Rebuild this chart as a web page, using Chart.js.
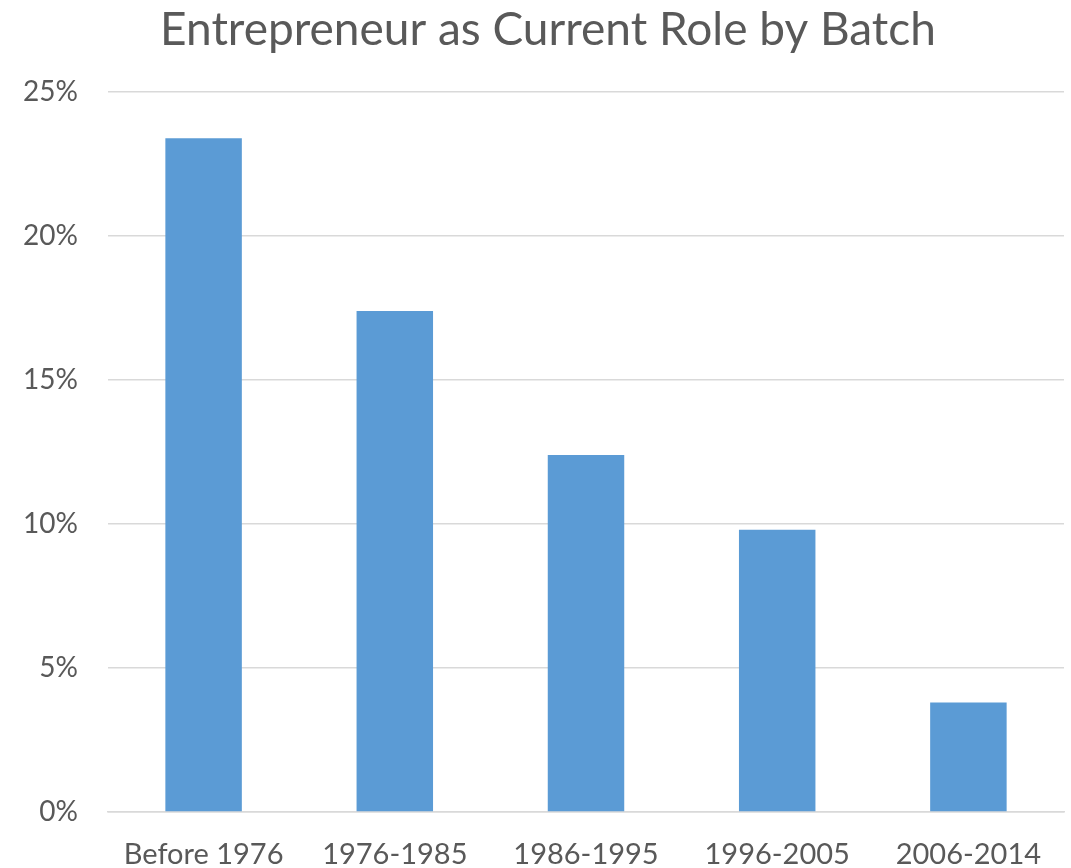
<!DOCTYPE html>
<html>
<head>
<meta charset="utf-8">
<script src="https://cdn.jsdelivr.net/npm/chart.js@4"></script>
<style>
    html, body { margin: 0; padding: 0; background: #fff; }
    #wrap { width: 1071px; height: 868px; }
</style>
</head>
<body>
<div id="wrap"><canvas id="batchChart" width="1071" height="868"></canvas></div>
<script>
const batches = ["Before 1976", "1976-1985", "1986-1995", "1996-2005", "2006-2014"];
const entrepreneurShare = [0.234, 0.174, 0.124, 0.098, 0.038];
const yTicks = [0, 0.05, 0.10, 0.15, 0.20, 0.25];

const textColor = "#595959";
const fontFamily = "Lato, 'Noto Sans', sans-serif";

// the original title is centred a bit right of the canvas middle
const titleShift = {
    id: "titleShift",
    afterLayout(chart) {
        if (chart.titleBlock) chart.titleBlock.left += 32;
    },
};

document.addEventListener("DOMContentLoaded", function () {
    const ctx = document.getElementById("batchChart").getContext("2d");

    new Chart(ctx, {
        type: "bar",
        data: {
            labels: batches,
            datasets: [
                {
                    label: "Entrepreneur",
                    data: entrepreneurShare,
                    backgroundColor: "#5B9BD5",
                    borderWidth: 0,
                    barPercentage: 0.4,
                    categoryPercentage: 1.0,
                },
            ],
        },
        plugins: [titleShift],
        options: {
            responsive: false,
            animation: false,
            layout: {
                padding: { left: 0, right: 7, top: 0, bottom: 0 },
            },
            scales: {
                y: {
                    min: 0,
                    max: 0.25,
                    afterBuildTicks: axis => {
                        axis.ticks = yTicks.map(v => ({ value: v }));
                    },
                    afterFit: axis => {
                        axis.width = 108;
                    },
                    border: { display: false },
                    grid: {
                        color: "#D9D9D9",
                        lineWidth: 1.5,
                        drawTicks: false,
                    },
                    ticks: {
                        color: textColor,
                        padding: 30,
                        font: { family: fontFamily, size: 28 },
                        callback: v => Math.round(v * 100) + "%",
                    },
                },
                x: {
                    afterFit: axis => {
                        axis.height = 56;
                    },
                    border: { color: "#D9D9D9", width: 1.5 },
                    grid: { display: false },
                    ticks: {
                        color: textColor,
                        padding: 17,
                        maxRotation: 0,
                        autoSkip: false,
                        font: { family: fontFamily, size: 29 },
                    },
                },
            },
            plugins: {
                legend: { display: false },
                tooltip: { enabled: false },
                title: {
                    display: true,
                    text: "Entrepreneur as Current Role by Batch",
                    color: textColor,
                    font: { family: fontFamily, size: 46, weight: "normal" },
                    padding: { top: 3, bottom: 34 },
                },
            },
        },
    });
});
</script>
</body>
</html>
